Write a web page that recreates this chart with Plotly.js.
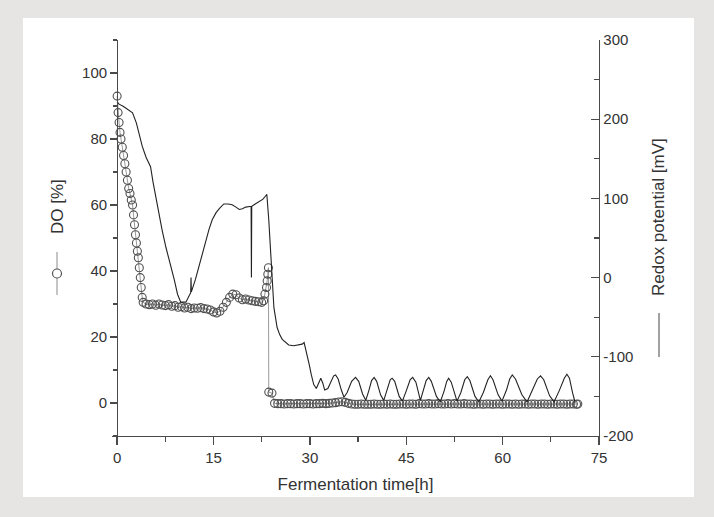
<!DOCTYPE html>
<html>
<head>
<meta charset="utf-8">
<script src="https://cdn.plot.ly/plotly-3.0.1.min.js"></script>
<style>html,body{margin:0;padding:0;background:#e7e4e4;}#chart{width:714px;height:517px;}</style>
</head>
<body>
<div id="chart"></div>
<script>
// ---- Data ----
// Dissolved oxygen, DO [%]
const doTime = [0,0.15,0.3,0.45,0.6,0.8,1.0,1.2,1.4,1.6,1.8,2.0,2.2,2.4,2.55,2.7,2.85,3.0,3.15,3.3,3.45,3.6,3.75,3.9,4.05,
  4.5,5,5.5,6,6.5,7,7.5,8,8.5,9,9.5,10,10.5,11,11.5,12,12.5,13,13.5,14,14.5,15,15.5,16,16.5,17,17.5,18,18.5,19,19.5,20,20.5,21,21.5,22,22.5,
  22.8,23.0,23.25,23.35,23.45,23.55,23.6,24.1,
  24.5,25,25.5,26,26.5,27,27.5,28,28.5,29,
  29.5,30,30.5,31,31.5,32,32.5,33,33.5,34,
  34.5,35,35.5,36,36.5,37,37.5,38,38.5,39,
  39.5,40,40.5,41,41.5,42,42.5,43,43.5,44,
  44.5,45,45.5,46,46.5,47,47.5,48,48.5,49,
  49.5,50,50.5,51,51.5,52,52.5,53,53.5,54,
  54.5,55,55.5,56,56.5,57,57.5,58,58.5,59,
  59.5,60,60.5,61,61.5,62,62.5,63,63.5,64,
  64.5,65,65.5,66,66.5,67,67.5,68,68.5,69,
  69.5,70,70.5,71,71.5,71.7];
const doValue = [93,88,85,82,80,77.5,75,72.5,70,67.5,65,63.5,61.5,60,57,54,51,48.5,46,44,41,38,35,32,30.5,
  30,29.8,30,29.6,30,29.7,29.5,29.8,29.3,29.5,29,29.2,28.8,29,28.6,28.8,28.7,28.9,28.6,28.5,28.2,27.6,27.3,27.8,29,30.5,32,33,32.8,31.8,31.3,31.5,31.2,31,30.8,30.7,30.5,
  31,33,35,37,39,41,3.3,3.0,
  -0.1,-0.2,-0.2,-0.3,-0.2,-0.2,-0.3,-0.2,-0.2,-0.3,
  -0.2,-0.2,-0.3,-0.2,-0.2,-0.1,-0.2,-0.1,0.0,0.1,
  0.3,0.4,0.2,-0.1,-0.3,-0.4,-0.4,-0.3,-0.4,-0.4,
  -0.4,-0.3,-0.4,-0.4,-0.3,-0.4,-0.3,-0.4,-0.4,-0.3,
  -0.3,-0.4,-0.3,-0.3,-0.4,-0.2,-0.3,-0.3,-0.2,-0.3,
  -0.3,-0.2,-0.3,-0.3,-0.2,-0.3,-0.2,-0.3,-0.3,-0.2,
  -0.3,-0.3,-0.4,-0.3,-0.3,-0.4,-0.3,-0.3,-0.4,-0.3,
  -0.3,-0.4,-0.3,-0.3,-0.4,-0.3,-0.4,-0.3,-0.3,-0.4,
  -0.3,-0.3,-0.4,-0.3,-0.3,-0.4,-0.3,-0.3,-0.4,-0.3,
  -0.3,-0.4,-0.3,-0.3,-0.4,-0.3];

// Redox potential [mV]
const redoxTime = [0,0.3,1.0,1.8,2.4,3.0,3.5,3.9,4.5,5.2,5.6,6.0,6.5,7.0,7.6,8.3,8.9,9.4,9.9,10.7,
  11.2,11.45,11.5,11.55,12.2,12.8,13.3,13.8,14.3,14.8,15.4,15.9,16.6,17.3,17.9,18.5,19.0,19.5,20.0,
  20.85,20.9,20.95,21.5,22.1,22.7,23.1,23.3,23.6,23.9,24.2,24.4,24.9,25.3,25.7,26.2,26.7,27.5,28.3,28.8,29.1,
  29.5,29.9,30.2,30.6,31.0,31.35,31.7,32.0,32.3,32.8,33.3,33.7,34.0,34.4,34.9,35.3,35.8,36.5,37.1,37.6,
  38.2,38.7,39.2,39.6,40.0,40.4,41.0,41.5,42.0,42.5,42.8,43.2,43.9,44.4,45.0,45.6,46.0,46.5,47.2,47.6,
  48.1,48.5,48.9,49.7,50.3,50.9,51.3,51.6,52.0,52.9,53.5,54.1,54.5,54.9,55.7,56.3,57.0,57.7,58.1,58.5,
  59.3,59.9,60.6,61.1,61.5,62.0,63.0,63.8,64.6,65.4,65.9,66.4,67.3,68.0,68.8,69.6,70.0,70.4,70.9,71.3];
const redoxValue = [222,219,216,212,208,195,180,166,152,140,120,102,80,60,38,17,-3,-21,-31,-31,
  -23,-19,0,-18,-2,17,32,47,61,73,82,87,93,93,92,89,86,87,89,
  90,0,90,93,96,99,103,105,73,26,-15,-38,-63,-72,-78,-82,-85,-86,-85,-84,-82,
  -95,-110,-122,-135,-140,-133,-127,-133,-142,-140,-130,-124,-123,-128,-142,-151,-145,-131,-126,-131,
  -147,-155,-142,-130,-126,-131,-148,-155,-142,-129,-127,-131,-150,-156,-143,-129,-126,-132,-155,-145,
  -130,-126,-131,-150,-157,-143,-131,-127,-132,-156,-145,-129,-125,-130,-150,-157,-145,-129,-124,-129,
  -148,-156,-142,-128,-123,-128,-148,-157,-143,-128,-124,-129,-149,-157,-143,-127,-122,-127,-146,-158];

// Axis ticks
const xTicks = [0,15,30,45,60,75];
const doTicks = [0,20,40,60,80,100];
const redoxTicks = [-200,-100,0,100,200,300];

// ---- Layout geometry ----
const W = 714, H = 517, L = 112, R = 115, T = 40, B = 81;
const plotW = W - L - R, plotH = H - T - B;
const xmin = -0.8, xmax = 75;
const px2x = p => (p - L) / plotW;
const py2y = p => (H - B - p) / plotH;

const axisColor = '#4a4a4a';
const textColor = '#333333';
const fontFam = '"Liberation Sans", Arial, sans-serif';

const traces = [
  {
    x: doTime, y: doValue, yaxis: 'y', name: 'DO',
    type: 'scatter', mode: 'lines+markers',
    line: {color: '#9a9a9a', width: 1},
    marker: {symbol: 'circle-open', size: 8, color: '#505050', line: {width: 1.1}},
    showlegend: false, hoverinfo: 'x+y'
  },
  {
    x: redoxTime, y: redoxValue, yaxis: 'y2', name: 'Redox',
    type: 'scatter', mode: 'lines',
    line: {color: '#222222', width: 1.1},
    showlegend: false, hoverinfo: 'x+y'
  }
];

const layout = {
  width: W, height: H,
  margin: {l: L, r: R, t: T, b: B, pad: 0},
  paper_bgcolor: '#e7e4e4',
  plot_bgcolor: '#ffffff',
  font: {family: fontFam, color: textColor, size: 15},
  showlegend: false,
  xaxis: {
    range: [xmin, xmax], tickvals: xTicks, ticktext: xTicks.map(String),
    showgrid: false, zeroline: false,
    showline: true, linecolor: axisColor, linewidth: 1.3,
    ticks: 'outside', ticklen: 8, tickwidth: 1.3, tickcolor: axisColor,
    minor: {dtick: 7.5, tick0: 0, ticks: 'outside', ticklen: 5, tickwidth: 1.2, tickcolor: axisColor, showgrid: false},
    tickfont: {size: 15, color: textColor},
    title: {text: 'Fermentation time[h]', font: {size: 17, color: textColor}, standoff: 12}
  },
  yaxis: {
    range: [-10, 110], tickvals: doTicks, ticktext: doTicks.map(String),
    anchor: 'free', position: (0 - xmin) / (xmax - xmin),
    showgrid: false, zeroline: false,
    showline: true, linecolor: axisColor, linewidth: 1.3,
    ticks: 'outside', ticklen: 7, tickwidth: 1.3, tickcolor: axisColor,
    minor: {dtick: 10, tick0: 0, ticks: 'outside', ticklen: 4, tickwidth: 1.2, tickcolor: axisColor, showgrid: false},
    tickfont: {size: 15, color: textColor}
  },
  yaxis2: {
    range: [-200, 300], tickvals: redoxTicks, ticktext: redoxTicks.map(String),
    overlaying: 'y', side: 'right', anchor: 'x',
    showgrid: false, zeroline: false,
    showline: true, linecolor: axisColor, linewidth: 1.3,
    ticks: 'inside', ticklen: 8, tickwidth: 1.3, tickcolor: axisColor,
    minor: {dtick: 50, tick0: 0, ticks: 'inside', ticklen: 5, tickwidth: 1.2, tickcolor: axisColor, showgrid: false},
    tickfont: {size: 15, color: textColor}
  },
  shapes: [
    // white panel behind the chart
    {type: 'rect', xref: 'paper', yref: 'paper', layer: 'below',
     x0: px2x(23), x1: px2x(694), y0: py2y(497), y1: py2y(18),
     fillcolor: '#ffffff', line: {width: 0}},
    // DO legend symbol next to left title
    {type: 'line', xref: 'paper', yref: 'paper', x0: px2x(57), x1: px2x(57), y0: py2y(252), y1: py2y(295),
     line: {color: '#8a8a8a', width: 1}},
    {type: 'circle', xref: 'paper', yref: 'paper', x0: px2x(52.5), x1: px2x(61.5), y0: py2y(269), y1: py2y(278),
     fillcolor: '#ffffff', line: {color: '#555555', width: 1.2}},
    // Redox legend symbol next to right title
    {type: 'line', xref: 'paper', yref: 'paper', x0: px2x(659), x1: px2x(659), y0: py2y(313), y1: py2y(357),
     line: {color: '#444444', width: 1}}
  ],
  annotations: [
    {text: 'DO [%]', xref: 'paper', yref: 'paper', x: px2x(57), y: py2y(207),
     xanchor: 'center', yanchor: 'middle', textangle: -90, showarrow: false,
     font: {size: 17, color: textColor}},
    {text: 'Redox potential [mV]', xref: 'paper', yref: 'paper', x: px2x(658), y: py2y(217),
     xanchor: 'center', yanchor: 'middle', textangle: -90, showarrow: false,
     font: {size: 17, color: textColor}}
  ]
};

Plotly.newPlot('chart', traces, layout, {displayModeBar: false, staticPlot: true});
</script>
</body>
</html>
